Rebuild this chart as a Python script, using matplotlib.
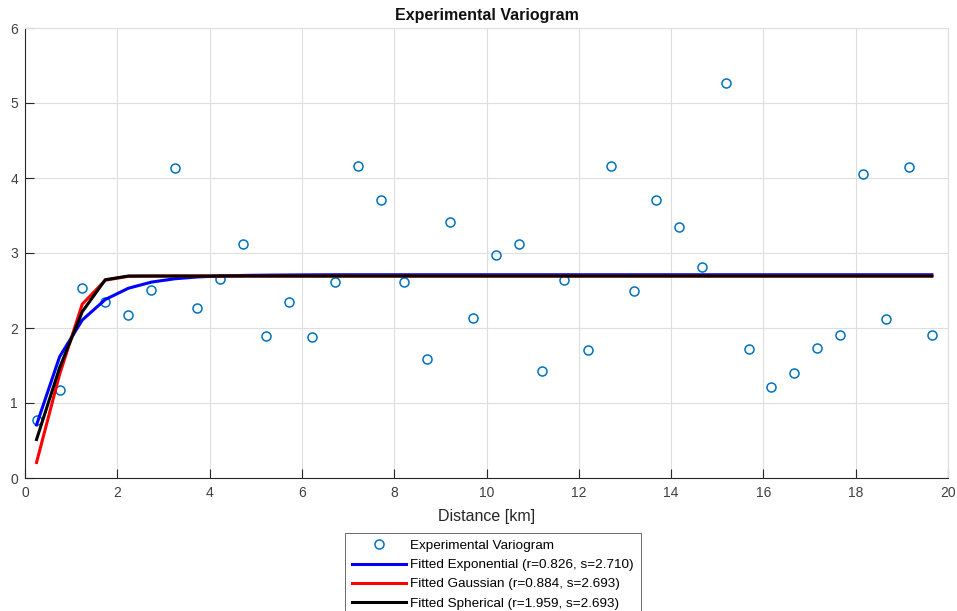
import matplotlib
matplotlib.use("Agg")
import matplotlib.pyplot as plt

plt.rcParams['font.family'] = ['Liberation Sans', 'DejaVu Sans']

# Lag distances [km]
lags = [0.25, 0.75, 1.24, 1.74, 2.24, 2.74, 3.24, 3.73, 4.23, 4.73,
        5.23, 5.72, 6.22, 6.72, 7.22, 7.71, 8.21, 8.71, 9.21, 9.70,
        10.20, 10.70, 11.20, 11.69, 12.19, 12.69, 13.19, 13.68, 14.18, 14.68,
        15.18, 15.68, 16.17, 16.67, 17.17, 17.67, 18.16, 18.66, 19.16, 19.65]

# Experimental semivariance
gamma_exp = [0.77, 1.17, 2.54, 2.35, 2.18, 2.51, 4.14, 2.27, 2.66, 3.12,
             1.90, 2.35, 1.88, 2.61, 4.16, 3.71, 2.62, 1.59, 3.42, 2.14,
             2.98, 3.12, 1.43, 2.64, 1.71, 4.16, 2.50, 3.71, 3.35, 2.82,
             5.27, 1.72, 1.21, 1.40, 1.73, 1.91, 4.05, 2.12, 4.15, 1.91]

# Fitted model values at the lags
fit_exponential = [0.708, 1.617, 2.106, 2.380, 2.530, 2.612, 2.656, 2.680, 2.694, 2.701,
                   2.705, 2.707, 2.709, 2.710, 2.710, 2.710, 2.710, 2.710, 2.710, 2.710,
                   2.710, 2.710, 2.710, 2.710, 2.710, 2.710, 2.710, 2.710, 2.710, 2.710,
                   2.710, 2.710, 2.710, 2.710, 2.710, 2.710, 2.710, 2.710, 2.710, 2.710]
fit_gaussian = [0.207, 1.382, 2.317, 2.637, 2.689, 2.693, 2.693, 2.693, 2.693, 2.693,
                2.693, 2.693, 2.693, 2.693, 2.693, 2.693, 2.693, 2.693, 2.693, 2.693,
                2.693, 2.693, 2.693, 2.693, 2.693, 2.693, 2.693, 2.693, 2.693, 2.693,
                2.693, 2.693, 2.693, 2.693, 2.693, 2.693, 2.693, 2.693, 2.693, 2.693]
fit_spherical = [0.513, 1.471, 2.216, 2.644, 2.693, 2.693, 2.693, 2.693, 2.693, 2.693,
                 2.693, 2.693, 2.693, 2.693, 2.693, 2.693, 2.693, 2.693, 2.693, 2.693,
                 2.693, 2.693, 2.693, 2.693, 2.693, 2.693, 2.693, 2.693, 2.693, 2.693,
                 2.693, 2.693, 2.693, 2.693, 2.693, 2.693, 2.693, 2.693, 2.693, 2.693]

labels = ['Experimental Variogram',
          'Fitted Exponential (r=0.826, s=2.710)',
          'Fitted Gaussian (r=0.884, s=2.693)',
          'Fitted Spherical (r=1.959, s=2.693)']

W, H = 957, 611
fig = plt.figure(figsize=(W / 100, H / 100), dpi=100)
ax = fig.add_axes([25 / W, 1 - 478 / H, (948 - 25) / W, (478 - 28) / H])

ax.plot(lags, gamma_exp, linestyle='none', marker='o', markersize=6.5,
        markerfacecolor='none', markeredgecolor='#0072BD', markeredgewidth=1.1,
        label=labels[0], zorder=3)
ax.plot(lags, fit_exponential, color='#0000FF', lw=2.2, label=labels[1], zorder=4)
ax.plot(lags, fit_gaussian, color='#FF0000', lw=2.2, label=labels[2], zorder=5)
ax.plot(lags, fit_spherical, color='#000000', lw=2.2, label=labels[3], zorder=6)

ax.set_xlim(0, 20)
ax.set_ylim(0, 6)
ax.set_xticks(range(0, 21, 2))
ax.set_yticks(range(0, 7))
ax.grid(True, color='#dedede', lw=0.8)
ax.set_axisbelow(True)
for side in ['top', 'right']:
    ax.spines[side].set_color('#dedede')
    ax.spines[side].set_linewidth(0.8)
for side in ['left', 'bottom']:
    ax.spines[side].set_color('#262626')
    ax.spines[side].set_linewidth(0.8)
ax.tick_params(direction='in', length=6.5, width=0.8, color='#262626',
               labelsize=10, labelcolor='#404040')
ax.tick_params(axis='x', pad=6)
ax.tick_params(axis='y', pad=5)

ax.set_title('Experimental Variogram', fontsize=11.5, fontweight='bold',
             color='#111111', pad=6)
ax.set_xlabel('Distance [km]', fontsize=11.5, color='#262626', labelpad=6)

leg = fig.legend(loc='upper center', bbox_to_anchor=(493 / W, 1 - 533 / H),
                 fontsize=9.7, frameon=True, fancybox=False, handlelength=4.0,
                 handletextpad=0.3, labelspacing=0.5, borderpad=0.5,
                 borderaxespad=0)
leg.get_frame().set_edgecolor('#262626')
leg.get_frame().set_linewidth(0.6)

fig.savefig('out.png', dpi=100)
